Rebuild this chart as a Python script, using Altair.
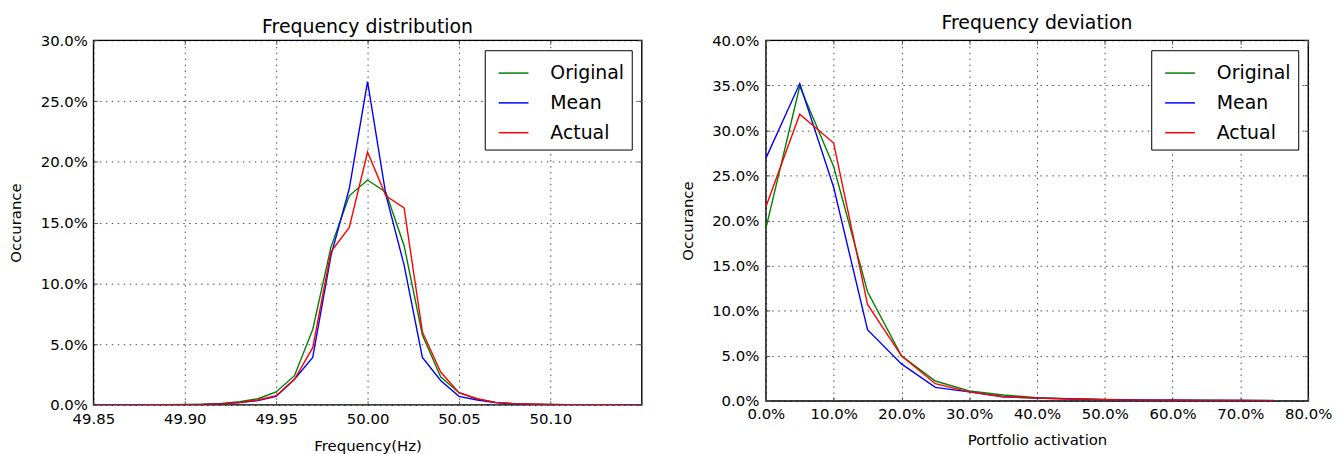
import altair as alt
import pandas as pd

# ---------------- Left panel data ----------------
freq = [49.85, 49.86, 49.87, 49.88, 49.89, 49.90, 49.91, 49.92, 49.93, 49.94,
        49.95, 49.96, 49.97, 49.98, 49.99, 50.00, 50.01, 50.02, 50.03, 50.04,
        50.05, 50.06, 50.07, 50.08, 50.09, 50.10, 50.11, 50.12, 50.13, 50.14, 50.15]
freq_original = [0.0000, 0.0000, 0.0001, 0.0001, 0.0002, 0.0003, 0.0006, 0.0012, 0.0025, 0.0050,
                 0.0106, 0.0240, 0.0620, 0.1300, 0.1720, 0.1850, 0.1750, 0.1310, 0.0575, 0.0230,
                 0.0100, 0.0048, 0.0020, 0.0010, 0.0005, 0.0003, 0.0002, 0.0001, 0.0001, 0.0000, 0.0000]
freq_mean = [0.0000, 0.0000, 0.0000, 0.0001, 0.0001, 0.0002, 0.0003, 0.0008, 0.0018, 0.0035,
             0.0070, 0.0210, 0.0390, 0.1230, 0.1780, 0.2660, 0.1730, 0.1150, 0.0390, 0.0200,
             0.0070, 0.0040, 0.0018, 0.0008, 0.0004, 0.0002, 0.0001, 0.0001, 0.0000, 0.0000, 0.0000]
freq_actual = [0.0000, 0.0000, 0.0000, 0.0001, 0.0001, 0.0002, 0.0003, 0.0008, 0.0018, 0.0040,
               0.0075, 0.0210, 0.0470, 0.1260, 0.1460, 0.2080, 0.1720, 0.1620, 0.0600, 0.0270,
               0.0100, 0.0050, 0.0020, 0.0010, 0.0005, 0.0003, 0.0002, 0.0001, 0.0001, 0.0000, 0.0000]
freq_ticks = [49.85, 49.90, 49.95, 50.00, 50.05, 50.10]
freq_yticks = [0.0, 0.05, 0.10, 0.15, 0.20, 0.25, 0.30]

# ---------------- Right panel data ----------------
activation = [0.00, 0.05, 0.10, 0.15, 0.20, 0.25, 0.30, 0.35,
              0.40, 0.45, 0.50, 0.55, 0.60, 0.65, 0.70, 0.75]
dev_original = [0.191, 0.349, 0.260, 0.121, 0.050, 0.022, 0.011, 0.0065,
                0.0035, 0.0025, 0.0015, 0.0010, 0.0008, 0.0006, 0.0005, 0.0004]
dev_mean = [0.269, 0.352, 0.237, 0.079, 0.041, 0.015, 0.010, 0.0045,
            0.0030, 0.0020, 0.0012, 0.0008, 0.0006, 0.0005, 0.0004, 0.0003]
dev_actual = [0.215, 0.318, 0.286, 0.107, 0.050, 0.019, 0.010, 0.0045,
              0.0030, 0.0020, 0.0012, 0.0008, 0.0006, 0.0005, 0.0004, 0.0003]
act_ticks = [0.0, 0.1, 0.2, 0.3, 0.4, 0.5, 0.6, 0.7, 0.8]
dev_yticks = [0.0, 0.05, 0.10, 0.15, 0.20, 0.25, 0.30, 0.35, 0.40]

series_names = ["Original", "Mean", "Actual"]
series_colors = ["#008000", "#0000ff", "#ff0000"]

FONT = "DejaVu Sans"
TICK = 4


def long_df(xs, cols):
    rows = []
    for name, vals in zip(series_names, cols):
        for i, (x, v) in enumerate(zip(xs, vals)):
            rows.append({"x": x, "y": v, "series": name, "order": i})
    return pd.DataFrame(rows)


df_left = long_df(freq, [freq_original, freq_mean, freq_actual])
df_right = long_df(activation, [dev_original, dev_mean, dev_actual])


def legend():
    return alt.Legend(
        title=None, orient="top-right", offset=10,
        strokeColor="black", fillColor="white", padding=7, cornerRadius=0,
        symbolType="stroke", symbolSize=900, symbolStrokeWidth=1.5,
        symbolOffset=6, labelOffset=21, rowPadding=4,
        labelFontSize=19, labelFont=FONT, labelColor="black",
    )


color = alt.Color(
    "series:N",
    scale=alt.Scale(domain=series_names, range=series_colors),
    sort=series_names,
    legend=legend(),
)


def axis_main(**kw):
    base = dict(
        grid=True, gridColor="#000000", gridOpacity=0.7, gridDash=[1.5, 4.5], gridWidth=1,
        domain=False, ticks=True, tickSize=TICK, offset=-TICK, tickColor="#555555", tickWidth=1,
        labelFlush=False, labelOverlap=False,
        labelFont=FONT, labelFontSize=15, labelColor="black",
        titleFont=FONT, titleFontSize=15, titleFontWeight="normal", titleColor="black",
    )
    base.update(kw)
    return alt.Axis(**base)


def axis_ticks_only(orient, values):
    return alt.Axis(
        orient=orient, values=values, labels=False, title=None, grid=False, domain=False,
        ticks=True, tickSize=TICK, offset=-TICK, tickColor="#555555", tickWidth=1,
        minExtent=0, maxExtent=0,
    )


def panel(df, xdom, ydom, xticks, yticks, xfmt, xtitle, title, width, height,
          x_lp, x_tp, y_lp, y_tp, toff):
    xs = alt.Scale(domain=xdom, nice=False, zero=False)
    ys = alt.Scale(domain=ydom, nice=False)
    lines = alt.Chart(df).mark_line(strokeWidth=1.4, clip=True).encode(
        x=alt.X("x:Q", title=xtitle, scale=xs,
                axis=axis_main(values=xticks, format=xfmt, labelPadding=x_lp, titlePadding=x_tp)),
        y=alt.Y("y:Q", title="Occurance", scale=ys,
                axis=axis_main(values=yticks, format=".1%", labelPadding=y_lp,
                               minExtent=60, maxExtent=60, titlePadding=y_tp)),
        color=color,
        order="order:Q",
    )
    frame_ticks = alt.Chart(df).mark_line(opacity=0).encode(
        x=alt.X("x:Q", scale=xs, axis=axis_ticks_only("top", xticks)),
        y=alt.Y("y:Q", scale=ys, axis=axis_ticks_only("right", yticks)),
        detail="series:N",
    )
    return alt.layer(lines, frame_ticks).resolve_axis(x="independent", y="independent").properties(
        width=width, height=height,
        title=alt.TitleParams(title, font=FONT, fontSize=19, fontWeight="normal",
                              color="black", offset=toff),
    )


left = panel(df_left, [49.85, 50.15], [0, 0.30], freq_ticks, freq_yticks, ".2f",
             "Frequency(Hz)", "Frequency distribution", 552, 367,
             x_lp=7, x_tp=12, y_lp=6, y_tp=14, toff=-4)
right = panel(df_right, [0, 0.8], [0, 0.40], act_ticks, dev_yticks, ".1%",
              "Portfolio activation", "Frequency deviation", 546, 363,
              x_lp=6, x_tp=11, y_lp=7, y_tp=15, toff=0)

chart = alt.hconcat(left, right, spacing=36).resolve_legend(color="independent").properties(
    padding={"left": 0, "top": 4, "right": 0, "bottom": 0},
    background="white",
).configure_view(
    stroke="black", strokeWidth=1.4,
)

chart.save("out.html", embed_options={"renderer": "svg", "actions": False})
